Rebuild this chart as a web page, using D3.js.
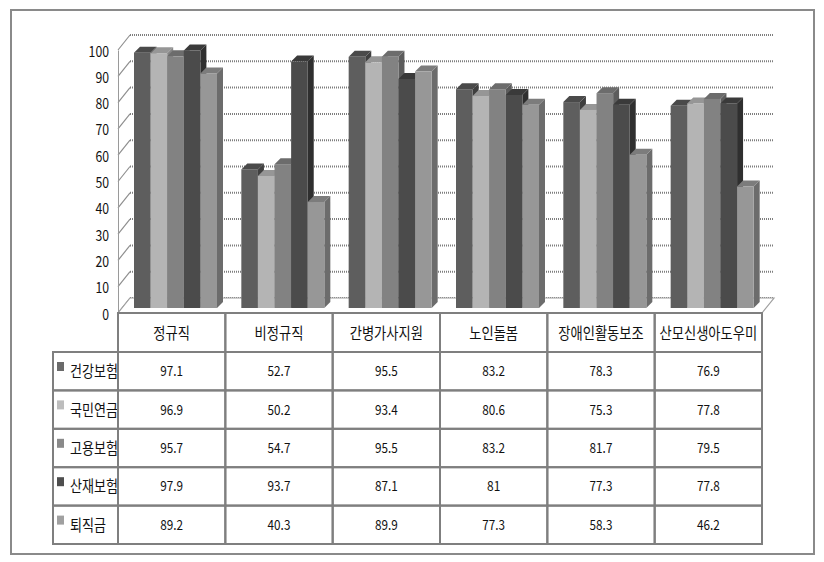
<!DOCTYPE html>
<html>
<head>
<meta charset="utf-8">
<script src="https://cdn.jsdelivr.net/npm/d3@7"></script>
<style>
  body { margin: 0; background: #fff; }
  text { font-family: "Noto Sans CJK KR", "Noto Sans", sans-serif; fill: #111; }
</style>
</head>
<body>
<div id="chart"></div>
<script>
// data
const categories = ['정규직', '비정규직', '간병가사지원', '노인돌봄', '장애인활동보조', '산모신생아도우미'];
const seriesNames = ['건강보험', '국민연금', '고용보험', '산재보험', '퇴직금'];
const health = [97.1, 52.7, 95.5, 83.2, 78.3, 76.9];
const pension = [96.9, 50.2, 93.4, 80.6, 75.3, 77.8];
const employ = [95.7, 54.7, 95.5, 83.2, 81.7, 79.5];
const injury = [97.9, 93.7, 87.1, 81, 77.3, 77.8];
const severance = [89.2, 40.3, 89.9, 77.3, 58.3, 46.2];
const yTicks = [0, 10, 20, 30, 40, 50, 60, 70, 80, 90, 100];

const seriesValues = [health, pension, employ, injury, severance];
const frontColors = ['#5e5e5e', '#b4b4b4', '#828282', '#4b4b4b', '#979797'];
const topColors = ['#4a4a4a', '#969696', '#6c6c6c', '#3a3a3a', '#7c7c7c'];
const sideColors = ['#3f3f3f', '#858585', '#5c5c5c', '#2f2f2f', '#6c6c6c'];
const legendColors = ['#6a6a6a', '#bdbdbd', '#8a8a8a', '#4e4e4e', '#a0a0a0'];

const width = 824, height = 562;
const svg = d3.select('#chart').append('svg')
  .attr('width', width)
  .attr('height', height);

// outer border
svg.append('rect')
  .attr('x', 11).attr('y', 10)
  .attr('width', 803).attr('height', 544)
  .attr('fill', '#fff')
  .attr('stroke', '#8a8a8a')
  .attr('stroke-width', 2);

// geometry of the fake 3d box
const plotLeft = 118, plotRight = 762;
const depthX = 12, depthY = -15;   // floor depth
const barDX = 6, barDY = -6;       // bar depth

const x0 = d3.scaleBand().domain(categories).range([plotLeft, plotRight]);
const yFront = d3.scaleLinear().domain([0, 100]).range([313, 50]);
const yBack = d3.scaleLinear().domain([0, 100]).range([313 + depthY, 50 + depthY]);
const yBar = d3.scaleLinear().domain([0, 100]).range([308, 45]);

// rough char-width helper, the original font is very narrow
function textLen(s, digitW, hangulW) {
  let w = 0;
  for (const ch of String(s)) {
    if (ch === '.') w += digitW * 0.45;
    else if (/[0-9]/.test(ch)) w += digitW;
    else w += hangulW;
  }
  return w;
}

// back wall gridlines
svg.append('g').selectAll('line')
  .data(yTicks)
  .enter().append('line')
  .attr('x1', plotLeft + depthX).attr('x2', plotRight + depthX)
  .attr('y1', d => yBack(d)).attr('y2', d => yBack(d))
  .attr('stroke', '#7e7e7e')
  .attr('stroke-width', 2)
  .attr('stroke-dasharray', '1 1');

// left wall diagonals
svg.append('g').selectAll('line')
  .data(yTicks)
  .enter().append('line')
  .attr('x1', plotLeft).attr('x2', plotLeft + depthX)
  .attr('y1', d => yFront(d)).attr('y2', d => yBack(d))
  .attr('stroke', '#8e8e8e')
  .attr('stroke-width', 1.2);

// floor
svg.append('path')
  .attr('d', `M${plotLeft},${yFront(0)} L${plotRight},${yFront(0)} L${plotRight + depthX},${yBack(0)} L${plotLeft + depthX},${yBack(0)} Z`)
  .attr('fill', '#fff')
  .attr('stroke', '#a0a0a0')
  .attr('stroke-width', 1.2);

// y axis
const yAxis = svg.append('g')
  .attr('transform', `translate(${plotLeft},0)`)
  .call(d3.axisLeft(yFront).tickValues(yTicks).tickSize(0).tickPadding(9));
yAxis.select('.domain').attr('stroke', '#9a9a9a');
yAxis.selectAll('text')
  .style('font-size', '15px')
  .style('font-family', '"Noto Sans CJK KR", sans-serif')
  .attr('fill', '#111')
  .attr('dy', '0.4em')
  .attr('textLength', d => textLen(d, 6.8, 12))
  .attr('lengthAdjust', 'spacingAndGlyphs');

// bars
const groupPad = 16, groupW = 83;
const x1 = d3.scaleBand().domain(seriesNames).range([0, groupW]);

categories.forEach((cat, ci) => {
  const g = svg.append('g').attr('transform', `translate(${x0(cat) + groupPad},0)`);
  seriesNames.forEach((s, si) => {
    const v = seriesValues[si][ci];
    const bx = x1(s), bw = x1.bandwidth();
    const yt = yBar(v), yb = yBar(0);
    // side face
    g.append('path')
      .attr('d', `M${bx + bw},${yb} L${bx + bw + barDX},${yb + barDY} L${bx + bw + barDX},${yt + barDY} L${bx + bw},${yt} Z`)
      .attr('fill', sideColors[si]);
    // top face
    g.append('path')
      .attr('d', `M${bx},${yt} L${bx + barDX},${yt + barDY} L${bx + bw + barDX},${yt + barDY} L${bx + bw},${yt} Z`)
      .attr('fill', topColors[si]);
    // front face
    g.append('rect')
      .attr('x', bx).attr('y', yt)
      .attr('width', bw).attr('height', yb - yt)
      .attr('fill', frontColors[si]);
  });
});

// data table
const rowY = d3.scaleBand().domain(seriesNames).range([352, 544]);
const headTop = yFront(0), headBottom = 352;
const labelLeft = 53;
const tbl = svg.append('g');
const lineColor = '#7f7f7f';

// header cells
tbl.selectAll('.hcell')
  .data(categories)
  .enter().append('rect')
  .attr('x', d => x0(d)).attr('y', headTop)
  .attr('width', x0.bandwidth()).attr('height', headBottom - headTop)
  .attr('fill', 'none').attr('stroke', lineColor).attr('stroke-width', 2);

tbl.selectAll('.htext')
  .data(categories)
  .enter().append('text')
  .attr('x', d => x0(d) + x0.bandwidth() / 2)
  .attr('y', (headTop + headBottom) / 2 + 6)
  .attr('text-anchor', 'middle')
  .style('font-size', '16px')
  .attr('textLength', d => textLen(d, 7, 12.2))
  .attr('lengthAdjust', 'spacingAndGlyphs')
  .text(d => d);

seriesNames.forEach((s, si) => {
  const top = rowY(s), h = rowY.bandwidth();
  // label cell
  tbl.append('rect')
    .attr('x', labelLeft).attr('y', top)
    .attr('width', plotLeft - labelLeft).attr('height', h)
    .attr('fill', 'none').attr('stroke', lineColor).attr('stroke-width', 2);
  tbl.append('rect')
    .attr('x', labelLeft + 4).attr('y', top + 10)
    .attr('width', 7).attr('height', 9)
    .attr('fill', legendColors[si]);
  tbl.append('text')
    .attr('x', labelLeft + 17)
    .attr('y', top + h / 2 + 6)
    .style('font-size', '16px')
    .attr('textLength', textLen(s, 7, 12))
    .attr('lengthAdjust', 'spacingAndGlyphs')
    .text(s);
  // value cells
  categories.forEach((cat, ci) => {
    const v = seriesValues[si][ci];
    tbl.append('rect')
      .attr('x', x0(cat)).attr('y', top)
      .attr('width', x0.bandwidth()).attr('height', h)
      .attr('fill', 'none').attr('stroke', lineColor).attr('stroke-width', 2);
    tbl.append('text')
      .attr('x', x0(cat) + x0.bandwidth() / 2)
      .attr('y', top + h / 2 + 5)
      .attr('text-anchor', 'middle')
      .style('font-size', '14px')
      .attr('textLength', textLen(v, 6.6, 12))
      .attr('lengthAdjust', 'spacingAndGlyphs')
      .text(v);
  });
});
</script>
</body>
</html>
